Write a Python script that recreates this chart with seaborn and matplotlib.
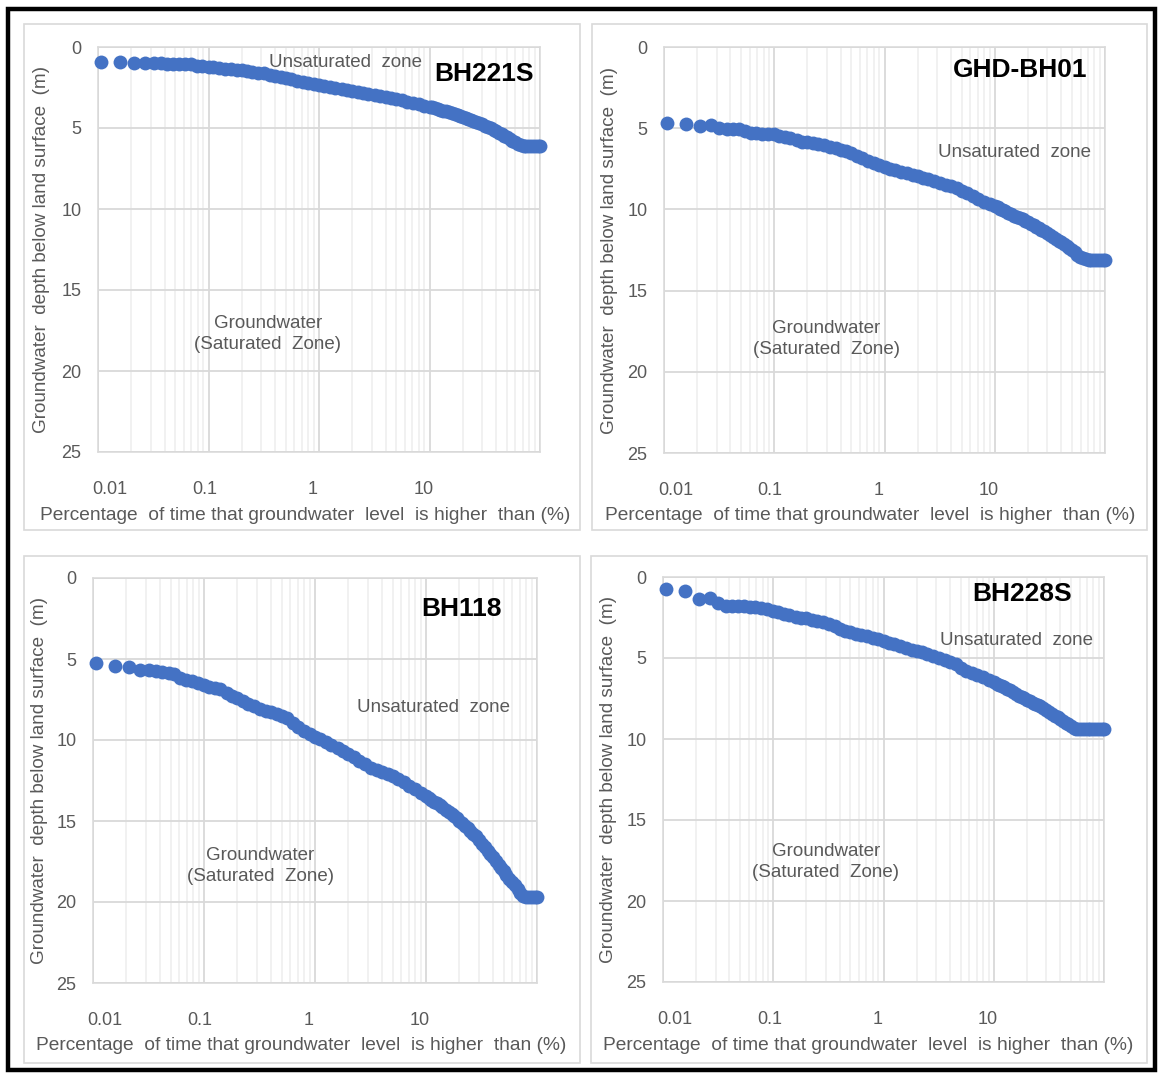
import numpy as np
import pandas as pd
import seaborn as sns
import matplotlib.pyplot as plt
from matplotlib.patches import Rectangle
from matplotlib.ticker import FixedLocator, NullFormatter
from matplotlib.transforms import ScaledTranslation

# percentage of time the level is exceeded (shared by all four wells)
pct = [0.0106, 0.0159, 0.0212, 0.0265, 0.0318, 0.037, 0.042, 0.048, 0.054, 0.061,
       0.069, 0.078, 0.088, 0.1, 0.11, 0.125, 0.14, 0.16, 0.18, 0.2,
       0.225, 0.25, 0.28, 0.32, 0.36, 0.4, 0.45, 0.5, 0.56, 0.63,
       0.71, 0.8, 0.9, 1.0, 1.12, 1.25, 1.4, 1.6, 1.8, 2.0,
       2.25, 2.5, 2.8, 3.2, 3.6, 4.0, 4.5, 5.0, 5.6, 6.3,
       7.1, 8.0, 9.0, 10, 10.6, 11.2, 11.9, 12.5, 13.3, 14,
       15, 16, 17, 18, 19, 20, 21.2, 22.5, 23.7, 25,
       26.5, 28, 30, 32, 34, 36, 38, 40, 42.5, 45,
       47.5, 50, 53, 56, 59.5, 63, 67, 71, 75, 80,
       85, 90, 95, 100]

# groundwater depth below land surface (m)
bh221s = [0.92, 0.92, 0.98, 0.98, 0.98, 1.0, 1.03, 1.05, 1.06, 1.06,
          1.07, 1.15, 1.2, 1.22, 1.25, 1.3, 1.33, 1.37, 1.41, 1.45,
          1.5, 1.54, 1.58, 1.63, 1.7, 1.77, 1.85, 1.92, 1.98, 2.07,
          2.16, 2.25, 2.31, 2.37, 2.43, 2.48, 2.54, 2.6, 2.65, 2.7,
          2.76, 2.82, 2.88, 2.95, 3.0, 3.06, 3.13, 3.2, 3.28, 3.37,
          3.45, 3.54, 3.62, 3.69, 3.73, 3.78, 3.83, 3.88, 3.92, 3.97,
          4.03, 4.09, 4.15, 4.2, 4.25, 4.3, 4.36, 4.42, 4.48, 4.55,
          4.61, 4.68, 4.77, 4.85, 4.94, 5.02, 5.1, 5.18, 5.28, 5.38,
          5.48, 5.58, 5.68, 5.78, 5.88, 5.98, 6.05, 6.1, 6.12, 6.12,
          6.12, 6.12, 6.12, 6.12]
ghd_bh01 = [4.65, 4.73, 4.85, 4.8, 5.0, 5.02, 5.04, 5.05, 5.2, 5.27,
            5.3, 5.35, 5.37, 5.38, 5.45, 5.55, 5.63, 5.75, 5.83, 5.88,
            5.92, 5.96, 6.05, 6.15, 6.24, 6.33, 6.42, 6.5, 6.7, 6.85,
            7.0, 7.15, 7.28, 7.4, 7.5, 7.6, 7.68, 7.78, 7.86, 7.95,
            8.05, 8.13, 8.23, 8.36, 8.48, 8.58, 8.68, 8.85, 9.0, 9.18,
            9.35, 9.52, 9.66, 9.79, 9.87, 9.95, 10.04, 10.12, 10.21, 10.3,
            10.38, 10.45, 10.54, 10.62, 10.71, 10.8, 10.89, 10.98, 11.06, 11.15,
            11.25, 11.36, 11.48, 11.6, 11.7, 11.8, 11.92, 12.03, 12.16, 12.28,
            12.39, 12.5, 12.65, 12.8, 12.92, 13.02, 13.07, 13.1, 13.12, 13.12,
            13.12, 13.12, 13.12, 13.12]
bh118 = [5.24, 5.41, 5.51, 5.67, 5.67, 5.76, 5.82, 5.84, 5.9, 6.2,
         6.28, 6.35, 6.5, 6.63, 6.72, 6.8, 6.88, 7.1, 7.27, 7.42,
         7.6, 7.75, 7.92, 8.1, 8.2, 8.27, 8.38, 8.5, 8.65, 8.95,
         9.2, 9.45, 9.65, 9.8, 9.95, 10.12, 10.3, 10.5, 10.7, 10.85,
         11.05, 11.3, 11.5, 11.7, 11.85, 12.0, 12.1, 12.25, 12.42, 12.62,
         12.85, 13.05, 13.25, 13.47, 13.58, 13.7, 13.8, 13.9, 14.02, 14.15,
         14.3, 14.45, 14.58, 14.7, 14.84, 14.98, 15.14, 15.3, 15.45, 15.6,
         15.78, 15.95, 16.18, 16.4, 16.62, 16.85, 17.05, 17.25, 17.48, 17.7,
         17.9, 18.1, 18.32, 18.55, 18.77, 18.98, 19.22, 19.45, 19.6, 19.7,
         19.72, 19.72, 19.72, 19.72]
bh228s = [0.72, 0.87, 1.34, 1.3, 1.6, 1.78, 1.8, 1.82, 1.82, 1.83,
          1.85, 1.9, 2.0, 2.1, 2.18, 2.28, 2.36, 2.44, 2.5, 2.56,
          2.63, 2.7, 2.8, 2.9, 3.0, 3.2, 3.35, 3.42, 3.5, 3.58,
          3.65, 3.75, 3.85, 3.93, 4.05, 4.15, 4.28, 4.38, 4.48, 4.57,
          4.65, 4.75, 4.88, 4.98, 5.1, 5.25, 5.4, 5.6, 5.78, 5.95,
          6.08, 6.2, 6.35, 6.5, 6.58, 6.65, 6.72, 6.8, 6.89, 6.98,
          7.1, 7.23, 7.32, 7.4, 7.49, 7.58, 7.67, 7.75, 7.82, 7.9,
          7.99, 8.08, 8.22, 8.35, 8.45, 8.55, 8.66, 8.78, 8.89, 9.0,
          9.1, 9.2, 9.3, 9.38, 9.4, 9.4, 9.4, 9.4, 9.4, 9.4,
          9.4, 9.4, 9.4, 9.4]

wells = ['BH221S', 'GHD-BH01', 'BH118', 'BH228S']
depths = [bh221s, ghd_bh01, bh118, bh228s]
x_ticks = [0.01, 0.1, 1, 10, 100]
x_ticklabels = ['0.01', '0.1', '1', '10', '']
y_ticks = [0, 5, 10, 15, 20, 25]

df = pd.concat([pd.DataFrame({'well': w, 'pct': pct, 'depth': d}) for w, d in zip(wells, depths)])

sns.set_theme(style='white')
plt.rcParams['font.family'] = ['Liberation Sans', 'DejaVu Sans']

W, H = 1161, 1075
fig = plt.figure(figsize=(W / 100, H / 100), dpi=100)

# pixel layout: axes box (l, r, t, b), panel frame (l, r, t, b), text spots
layout = {
    'BH221S':   dict(ax=(98, 540, 47, 452), frame=(24, 580, 24, 530),
                     title=(31, 1.65), unsat=(1.72, 0.93), sat=(0.345, 17.7),
                     xlab=(305, 515), ylab=42),
    'GHD-BH01': dict(ax=(664, 1105, 47, 453), frame=(592, 1147, 24, 530),
                     title=(16.9, 1.42), unsat=(15.2, 6.5), sat=(0.295, 17.96),
                     xlab=(870, 516), ylab=610),
    'BH118':    dict(ax=(93, 537, 578, 983), frame=(24, 580, 556, 1063),
                     title=(20.7, 1.9), unsat=(11.8, 8.0), sat=(0.32, 17.8),
                     xlab=(301, 1046), ylab=40),
    'BH228S':   dict(ax=(663, 1104, 577, 982), frame=(591, 1147, 556, 1063),
                     title=(18.0, 1.05), unsat=(16.2, 3.95), sat=(0.30, 17.6),
                     xlab=(868, 1045), ylab=608),
}

grey_txt = '#595959'
tick_shift = [12, -4, -6, -6, 0]  # px, Excel-style label placement

for w in wells:
    L = layout[w]
    fl, fr, ft, fb = L['frame']
    fig.patches.append(Rectangle((fl / W, 1 - fb / H), (fr - fl) / W, (fb - ft) / H,
                                 transform=fig.transFigure, fill=False,
                                 edgecolor='#d9d9d9', lw=1.2))
    l, r, t, b = L['ax']
    ax = fig.add_axes([l / W, 1 - b / H, (r - l) / W, (b - t) / H])
    ax.set_axisbelow(True)

    sns.scatterplot(data=df[df['well'] == w], x='pct', y='depth', ax=ax,
                    color='#4472C4', s=100, linewidth=0, alpha=1,
                    legend=False, clip_on=False, zorder=3)

    ax.set_xscale('log')
    ax.set_xlim(0.01, 100)
    ax.set_ylim(25, 0)
    ax.xaxis.set_major_locator(FixedLocator(x_ticks))
    ax.set_xticklabels(x_ticklabels)
    ax.xaxis.set_minor_locator(FixedLocator(
        [m * 10.0 ** e for e in range(-2, 2) for m in range(2, 10)]))
    ax.xaxis.set_minor_formatter(NullFormatter())
    ax.set_yticks(y_ticks)
    ax.grid(which='major', color='#d9d9d9', lw=1.3)
    ax.grid(which='minor', axis='x', color='#ededed', lw=1.1)
    for s in ax.spines.values():
        s.set_color('#d9d9d9')
        s.set_linewidth(1.1)
    ax.tick_params(which='both', length=0, labelsize=13, labelcolor=grey_txt)
    ax.tick_params(axis='x', pad=21)
    ax.tick_params(axis='y', pad=12)
    for lab, dx in zip(ax.get_xticklabels(), tick_shift):
        lab.set_transform(lab.get_transform() +
                          ScaledTranslation(dx / 100, 0, fig.dpi_scale_trans))

    ax.set_xlabel('Percentage  of time that groundwater  level  is higher  than (%)',
                  fontsize=13.8, color=grey_txt)
    ax.set_ylabel('Groundwater  depth below land surface  (m)',
                  fontsize=13.6, color=grey_txt)
    xl, yl = L['xlab']
    ax.xaxis.set_label_coords((xl - l) / (r - l), (b - yl) / (b - t))
    ax.xaxis.label.set_va('center')
    ax.yaxis.set_label_coords((L['ylab'] - l) / (r - l), 0.5)
    ax.yaxis.label.set_va('center')

    ax.text(*L['title'], w, fontsize=19, fontweight='bold', color='black',
            ha='center', va='center')
    ax.text(*L['unsat'], 'Unsaturated  zone', fontsize=13.5, color=grey_txt,
            ha='center', va='center')
    ax.text(*L['sat'], 'Groundwater\n(Saturated  Zone)', fontsize=13.5,
            color=grey_txt, ha='center', va='center', linespacing=1.3)

# outer black border
fig.patches.append(Rectangle((8 / W, 1 - 1070 / H), 1147 / W, 1061 / H,
                             transform=fig.transFigure, fill=False,
                             edgecolor='black', lw=3.2))

fig.savefig('out.png', dpi=100, facecolor='white')
